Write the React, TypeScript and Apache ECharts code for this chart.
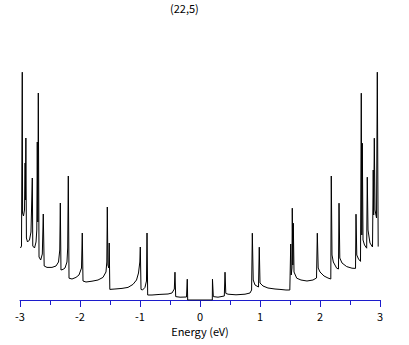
import React, { useEffect, useRef } from "react";
import * as echarts from "echarts";

const title = "(22,5)";
const xAxisName = "Energy (eV)";
const xTicks = [-3, -2, -1, 0, 1, 2, 3];

// Energy (eV) values of the density-of-states curve
const energy: number[] = [
  -2.992, -2.975, -2.962, -2.957, -2.942, -2.925, -2.915, -2.91, -2.902, -2.893,
  -2.875, -2.842, -2.817, -2.795, -2.787, -2.758, -2.733, -2.72, -2.712, -2.703,
  -2.695, -2.683, -2.655, -2.628, -2.612, -2.597, -2.55, -2.467, -2.4, -2.358,
  -2.337, -2.328, -2.317, -2.283, -2.25, -2.217, -2.205, -2.195, -2.183, -2.133,
  -2.067, -2.017, -1.975, -1.962, -1.95, -1.9, -1.8, -1.7, -1.617, -1.567,
  -1.553, -1.545, -1.535, -1.52, -1.513, -1.503, -1.417, -1.3, -1.2, -1.117,
  -1.058, -1.025, -1.003, -0.995, -0.983, -0.958, -0.917, -0.892, -0.883, -0.872,
  -0.8, -0.667, -0.533, -0.467, -0.428, -0.417, -0.405, -0.333, -0.225, -0.212,
  -0.205,
  0.205, 0.208, 0.222, 0.3, 0.405, 0.417, 0.43, 0.467, 0.6, 0.75,
  0.833, 0.86, 0.872, 0.887, 0.917, 0.975, 0.988, 1.0, 1.05, 1.133,
  1.25, 1.333, 1.433, 1.497, 1.512, 1.52, 1.533, 1.538, 1.547, 1.555,
  1.567, 1.612, 1.683, 1.783, 1.883, 1.942, 1.955, 1.97, 2.0, 2.067,
  2.133, 2.18, 2.188, 2.2, 2.222, 2.278, 2.308, 2.317, 2.33, 2.367,
  2.445, 2.533, 2.592, 2.6, 2.613, 2.642, 2.675, 2.688, 2.697, 2.705,
  2.717, 2.742, 2.778, 2.788, 2.8, 2.833, 2.875, 2.887, 2.895, 2.905,
  2.917, 2.942, 2.955, 2.97,
];

// Density of states (arbitrary units) at each energy above
const dos: number[] = [
  2.6, 2.7, 11.39, 4.35, 4.2, 4.5, 6.85, 5.0, 8.1, 3.1,
  2.9, 3.0, 3.4, 6.1, 2.7, 2.6, 2.9, 3.5, 7.9, 3.9,
  10.35, 2.15, 2.0, 2.3, 4.3, 1.7, 1.63, 1.63, 1.7, 1.9,
  2.5, 4.85, 1.5, 1.53, 1.6, 1.9, 2.6, 6.2, 1.09, 1.05,
  1.13, 1.25, 1.6, 3.35, 0.95, 0.9, 0.94, 1.0, 1.13, 1.4,
  1.9, 4.65, 1.75, 1.6, 2.85, 0.53, 0.55, 0.58, 0.63, 0.78,
  1.0, 1.35, 1.9, 2.65, 0.53, 0.5, 0.63, 0.95, 3.35, 0.25,
  0.25, 0.28, 0.3, 0.35, 0.55, 1.39, 0.17, 0.14, 0.15, 1.04,
  0,
  0, 1.04, 0.17, 0.14, 0.2, 1.39, 0.33, 0.29, 0.26, 0.29,
  0.35, 0.5, 3.34, 1.0, 0.75, 0.65, 2.64, 0.85, 0.7, 0.6,
  0.55, 0.53, 0.5, 0.5, 2.8, 1.25, 1.6, 4.59, 1.75, 3.84,
  1.4, 1.09, 1.0, 0.95, 1.0, 1.1, 3.34, 1.6, 1.4, 1.2,
  1.1, 1.05, 6.2, 2.25, 1.9, 1.59, 1.55, 4.84, 2.1, 1.85,
  1.67, 1.59, 1.58, 4.29, 2.25, 2.05, 1.93, 10.34, 3.25, 7.84,
  3.0, 2.75, 2.59, 6.14, 3.5, 2.85, 2.65, 6.5, 4.25, 8.09,
  4.5, 4.1, 11.39, 2.67,
];

const FONT = "'Noto Sans CJK JP', 'DejaVu Sans', sans-serif";

export default function App() {
  const ref = useRef<HTMLDivElement>(null);

  useEffect(() => {
    document.body.style.margin = "0";
    if (!ref.current) return;
    const chart = echarts.init(ref.current, undefined, { renderer: "svg" });
    const data = energy.map((e, i) => [e, dos[i]]);
    chart.setOption({
      animation: false,
      backgroundColor: "#ffffff",
      title: {
        text: title,
        left: 170,
        top: 2,
        padding: 0,
        textStyle: { fontSize: 11, lineHeight: 11, fontWeight: "normal", color: "#000", fontFamily: FONT },
      },
      grid: { left: 20, right: 29, top: 60, bottom: 45 },
      xAxis: {
        type: "value",
        min: xTicks[0],
        max: xTicks[xTicks.length - 1],
        interval: 1,
        name: xAxisName,
        nameLocation: "middle",
        nameGap: 25,
        nameTextStyle: { fontSize: 11, color: "#000", fontFamily: FONT },
        axisLine: { show: true, onZero: false, lineStyle: { color: "#1c1ccc", width: 1 } },
        axisTick: { show: true, length: 7, lineStyle: { color: "#1c1ccc", width: 1 } },
        minorTick: { show: true, splitNumber: 2, length: 5, lineStyle: { color: "#1c1ccc", width: 1 } },
        axisLabel: { fontSize: 11, color: "#000", margin: 10, fontFamily: FONT },
        splitLine: { show: false },
        minorSplitLine: { show: false },
      },
      yAxis: {
        type: "value",
        min: 0,
        max: 12,
        show: false,
        splitLine: { show: false },
      },
      series: [
        {
          type: "line",
          data,
          showSymbol: false,
          symbol: "none",
          lineStyle: { color: "#000", width: 1 },
          z: 5,
        },
      ],
    });
    return () => chart.dispose();
  }, []);

  return <div ref={ref} style={{ width: 409, height: 345 }} />;
}
